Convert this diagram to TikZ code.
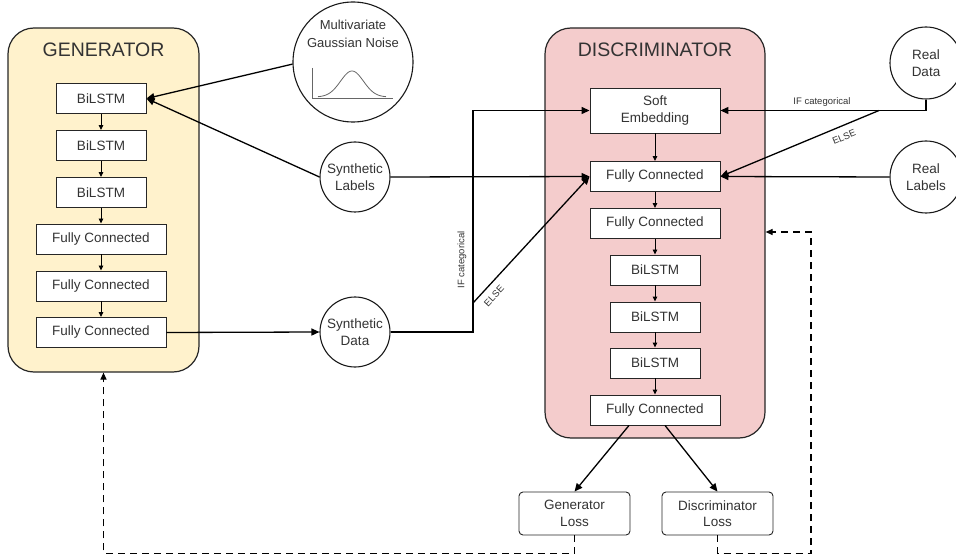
\documentclass[tikz,border=0pt]{standalone}
\usepackage{fontspec}
\setmainfont{Liberation Sans}
\usetikzlibrary{arrows.meta,calc}
\definecolor{genfill}{HTML}{FFF2CC}
\definecolor{disfill}{HTML}{F4CCCC}
\definecolor{txt}{HTML}{333333}
\begin{document}
\begin{tikzpicture}[x=1pt,y=-1pt,
  panel/.style={draw=black!85, line width=1.2pt, rounded corners=26pt, inner sep=0pt},
  title/.style={font=\fontsize{19.5}{22}\selectfont, text=txt},
  box/.style={draw=black!85, fill=white, line width=0.9pt, minimum height=30pt, inner sep=0pt, align=center, font=\fontsize{13.5}{16.5}\selectfont, text=txt},
  wbox/.style={box, minimum width=130pt},
  nbox/.style={box, minimum width=90pt},
  lossbox/.style={box, rounded corners=4pt, minimum width=111pt, minimum height=43pt},
  circ/.style={circle, draw=black!90, line width=1.1pt, fill=white, minimum size=70pt, inner sep=0pt, align=center, font=\fontsize{13.5}{16.5}\selectfont, text=txt},
  lab/.style={font=\fontsize{9.5}{11}\selectfont, text=txt, inner sep=1pt},
  arr/.style={-{Triangle[length=8pt,width=7pt]}, line width=1.3pt},
  sarr/.style={-{Triangle[length=5pt,width=4.5pt]}, line width=0.9pt},
  darr/.style={-{Triangle[length=7pt,width=6pt]}, line width=1.2pt, dash pattern=on 7pt off 5pt}
]
\useasboundingbox (0,0) rectangle (956,556);

% panels
\node[panel, fill=genfill, minimum width=191pt, minimum height=344pt] (gen) at (103.5,200) {};
\node[title] (gtitle) at (103.5,50) {GENERATOR};
\node[panel, fill=disfill, minimum width=220pt, minimum height=410pt] (disc) at (655,233) {};
\node[title] (dtitle) at (655,50) {DISCRIMINATOR};

% generator boxes
\node[nbox] (g1) at (101,98.5) {BiLSTM};
\node[nbox] (g2) at (101,145.5) {BiLSTM};
\node[nbox] (g3) at (101,192.5) {BiLSTM};
\node[wbox] (g4) at (101,239) {Fully Connected};
\node[wbox] (g5) at (101,286) {Fully Connected};
\node[wbox] (g6) at (101,332.5) {Fully Connected};
\foreach \a/\b in {g1/g2,g2/g3,g3/g4,g4/g5,g5/g6} \draw[sarr] (\a) -- (\b);

% discriminator boxes
\node[wbox, minimum height=45pt] (d1) at (655,110.5) {Soft\\Embedding};
\node[wbox] (d2) at (655,176.5) {Fully Connected};
\node[wbox] (d3) at (655,223.5) {Fully Connected};
\node[nbox] (d4) at (655,270) {BiLSTM};
\node[nbox] (d5) at (655,317) {BiLSTM};
\node[nbox] (d6) at (655,363) {BiLSTM};
\node[wbox] (d7) at (655,410) {Fully Connected};
\foreach \a/\b in {d1/d2,d2/d3,d3/d4,d4/d5,d5/d6,d6/d7} \draw[sarr] (\a) -- (\b);

% circles
\node[circ, minimum size=120pt] (noise) at (353,62) {};
\node[font=\fontsize{13}{18}\selectfont, text=txt, align=center] (noisetxt) at (353,34) {Multivariate\\Gaussian Noise};
\draw[black!60, line width=0.8pt] (312,68) -- (312,98) -- (393,98);
\draw[black!60, line width=0.8pt, domain=318:386, smooth, samples=50] plot (\x,{97-26*exp(-((\x-352)/11.5)^2/2)});
\node[circ] (slab) at (355,177) {Synthetic\\Labels};
\node[circ] (sdat) at (355,332) {Synthetic\\Data};
\node[circ, minimum size=72pt] (rdat) at (926,63) {Real\\Data};
\node[circ, minimum size=72pt] (rlab) at (926,177) {Real\\Labels};

% losses
\node[lossbox] (gl) at (574.5,513.5) {Generator\\Loss};
\node[lossbox] (dl) at (717.5,513.5) {Discriminator\\Loss};

% connectors
\draw[arr] (noise.182) -- (g1.east);
\draw[arr] (slab.west) -- (g1.east);
\draw[arr] (g6.east) -- (sdat.west);
\draw[arr] (slab.east) -- (d2.west);
\coordinate (jl) at (473,0);
\coordinate (elsel) at (473,303);
\draw[arr] (sdat.east) -- (sdat.east -| jl) |- (d1.west);
\draw[arr] (elsel) -- (d2.west);
\node[lab, rotate=90] (ifl) at (462,260) {IF categorical};
\node[lab, rotate=47] (elsell) at (494,296) {ELSE};
\draw[arr] (rdat.south) |- (d1.east);
\coordinate (elser) at (879,110.5);
\draw[arr] (elser) -- (d2.east);
\node[lab] (ifr) at (822,102) {IF categorical};
\node[lab, rotate=22.5] (elserl) at (844,137) {ELSE};
\draw[arr] (rlab.west) -- (d2.east);

\draw[arr] ($(d7.south)+(-26,0)$) -- (gl.north);
\draw[arr] ($(d7.south)+(10,0)$) -- (dl.north);

\draw[darr] (gl.south) -- ++(0,18) -| (gen.south);
\coordinate (dr) at (811,232);
\draw[darr] (dl.south) -- ++(0,18) -| (dr) -- (disc.east |- dr);
\end{tikzpicture}
\end{document}
